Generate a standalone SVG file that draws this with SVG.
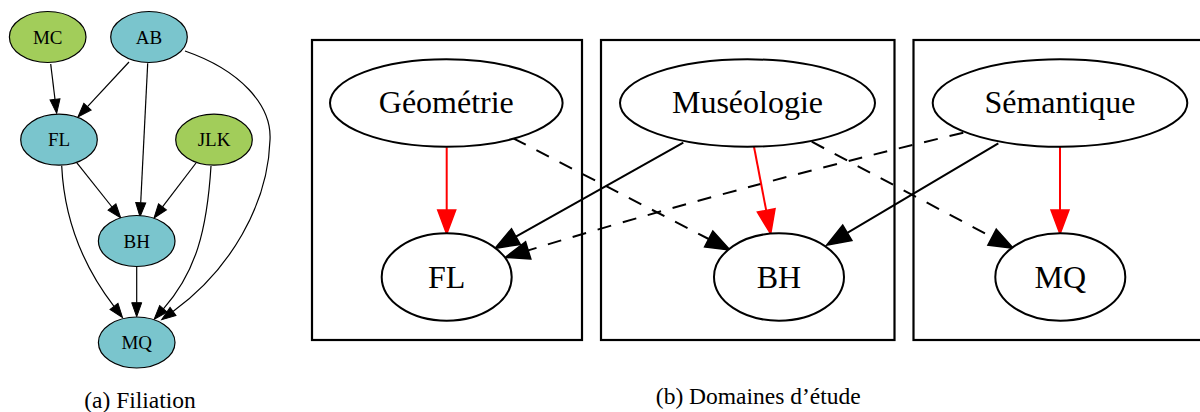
<svg xmlns="http://www.w3.org/2000/svg" width="1200" height="412" viewBox="0 0 1200 412">
<style>
  .lnode ellipse { stroke: #000; stroke-width: 1.2; }
  .blue ellipse { fill: #7ac5cd; }
  .green ellipse { fill: #a2cd5a; }
  .lnode text { font-family: "Liberation Serif", "Times New Roman", serif; font-size: 19px; text-anchor: middle; fill: #000; }
  .rnode ellipse { fill: #fff; stroke: #000; stroke-width: 2; }
  .rnode text { font-family: "Liberation Serif", "Times New Roman", serif; font-size: 32px; text-anchor: middle; fill: #000; }
  .box { fill: none; stroke: #000; stroke-width: 2.2; }
  .le { fill: none; stroke: #000; stroke-width: 1.2; marker-end: url(#ahS); }
  .re { fill: none; stroke: #000; stroke-width: 2; marker-end: url(#ahB); }
  .red { stroke: #ff0000; marker-end: url(#ahR); }
  .dash { stroke-dasharray: 14 12; }
  .cap { font-family: "Liberation Serif", "Times New Roman", serif; font-size: 23.5px; text-anchor: middle; fill: #000; }
</style>
<defs>
  <marker id="ahS" markerUnits="userSpaceOnUse" markerWidth="16" markerHeight="12" refX="0" refY="6" orient="auto" overflow="visible">
    <path d="M0,1 L14,6 L0,11 z" fill="#000" stroke="#000" stroke-width="1"/>
  </marker>
  <marker id="ahB" markerUnits="userSpaceOnUse" markerWidth="26" markerHeight="20" refX="0" refY="10" orient="auto" overflow="visible">
    <path d="M0,1 L24,10 L0,19 z" fill="#000" stroke="#000" stroke-width="1.5"/>
  </marker>
  <marker id="ahR" markerUnits="userSpaceOnUse" markerWidth="26" markerHeight="20" refX="0" refY="10" orient="auto" overflow="visible">
    <path d="M0,1 L24,10 L0,19 z" fill="#ff0000" stroke="#ff0000" stroke-width="1.5"/>
  </marker>
</defs>
<rect width="1200" height="412" fill="#fff"/>

<!-- (a) Filiation -->
<g id="filiation-edges">
  <path class="le" d="M50.7,64 L55,99.4"/>
  <path class="le" d="M129,62 L87.5,106.7"/>
  <path class="le" d="M147.7,63.3 L140.7,202.7"/>
  <path class="le" d="M185,51 C240,70 272,105 270,140 C268,205 230,270 173,311.5"/>
  <path class="le" d="M76.7,162.7 L112,207"/>
  <path class="le" d="M61.7,165.7 C64,215 80,262 114,306.4"/>
  <path class="le" d="M196,163 L162.5,206.9"/>
  <path class="le" d="M211,166 C207,230 196,272 163.4,308.8"/>
  <path class="le" d="M136.7,266.7 L136.7,302.7"/>
</g>
<g id="MC" class="lnode green"><ellipse cx="47.7" cy="37" rx="38.3" ry="25.5"/><text x="47.7" y="43.5">MC</text></g>
<g id="AB" class="lnode blue"><ellipse cx="149" cy="37" rx="38.3" ry="25.5"/><text x="149" y="43.5">AB</text></g>
<g id="FL-a" class="lnode blue"><ellipse cx="59" cy="139.7" rx="38.3" ry="25.5"/><text x="59" y="146.2">FL</text></g>
<g id="JLK" class="lnode green"><ellipse cx="214" cy="139.7" rx="38.3" ry="25.5"/><text x="214" y="146.2">JLK</text></g>
<g id="BH-a" class="lnode blue"><ellipse cx="136.7" cy="241" rx="38.3" ry="25.5"/><text x="136.7" y="247.5">BH</text></g>
<g id="MQ-a" class="lnode blue"><ellipse cx="136.7" cy="342.5" rx="38.3" ry="25.5"/><text x="136.7" y="349">MQ</text></g>
<text class="cap" x="140" y="408">(a) Filiation</text>

<!-- (b) Domaines d'étude -->
<g id="clusters">
  <rect class="box" x="312" y="40" width="270" height="300"/>
  <rect class="box" x="601" y="40" width="293.5" height="300"/>
  <rect class="box" x="913.5" y="40" width="290" height="300"/>
</g>
<g id="domaines-edges">
  <path class="re red" d="M446.7,147.3 L446.7,210"/>
  <path class="re dash" d="M513.3,138.3 L708.7,239"/>
  <path class="re" d="M683.3,142.7 L515.9,236.6"/>
  <path class="re dash" d="M963.3,132.7 Q732,188 528.2,250.4"/>
  <path class="re red" d="M754,146.7 L766.2,210.4"/>
  <path class="re dash" d="M811.7,141.7 L992.1,237.1"/>
  <path class="re" d="M998.3,143.3 L847.3,232.8"/>
  <path class="re red" d="M1060,147 L1060,210"/>
</g>
<g id="Geometrie" class="rnode"><ellipse cx="446.3" cy="103" rx="116.3" ry="43.7"/><text x="446.3" y="113">Géométrie</text></g>
<g id="Museologie" class="rnode"><ellipse cx="747.5" cy="103" rx="127.5" ry="43.7"/><text x="747.5" y="113">Muséologie</text></g>
<g id="Semantique" class="rnode"><ellipse cx="1060" cy="103" rx="127.3" ry="43.7"/><text x="1060" y="113">Sémantique</text></g>
<g id="FL-b" class="rnode"><ellipse cx="446.7" cy="277" rx="65" ry="43.7"/><text x="446.7" y="287.5">FL</text></g>
<g id="BH-b" class="rnode"><ellipse cx="779" cy="277" rx="65" ry="43.7"/><text x="779" y="287.5">BH</text></g>
<g id="MQ-b" class="rnode"><ellipse cx="1060.3" cy="277" rx="65" ry="43.7"/><text x="1060.3" y="287.5">MQ</text></g>
<text class="cap" x="758.3" y="404">(b) Domaines d’étude</text>
</svg>
